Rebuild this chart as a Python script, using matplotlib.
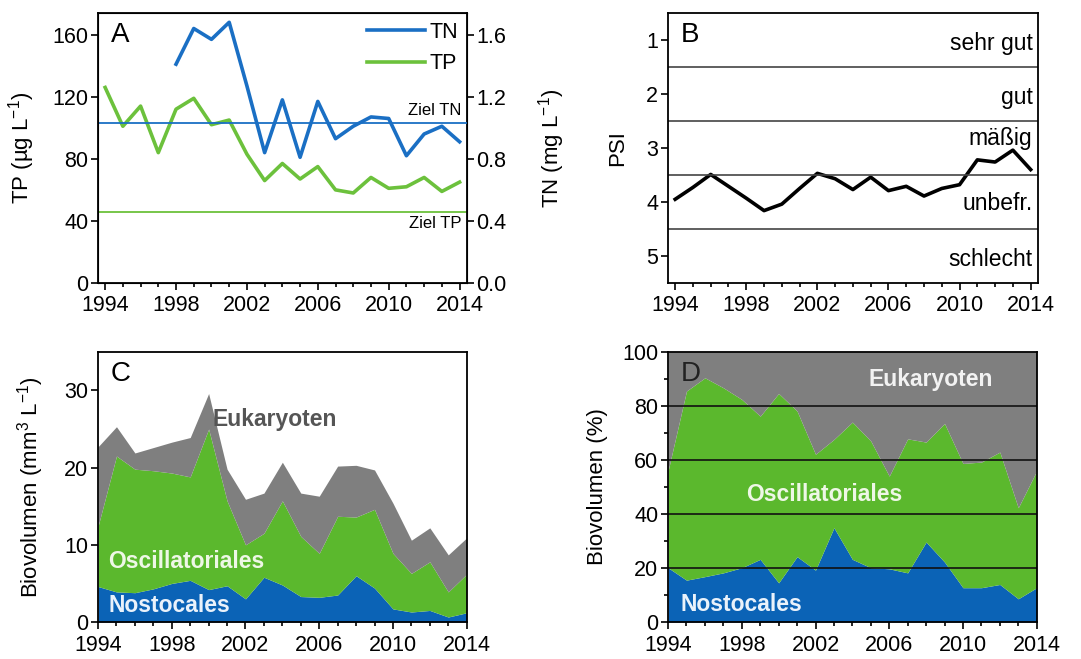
import numpy as np
import matplotlib
matplotlib.use('Agg')
from matplotlib import pyplot as plt
from matplotlib.ticker import MultipleLocator

plt.rcParams['font.family'] = ['Liberation Sans', 'DejaVu Sans']
plt.rcParams['mathtext.fontset'] = 'custom'
plt.rcParams['mathtext.rm'] = 'Liberation Sans'
plt.rcParams['mathtext.it'] = 'Liberation Sans'
plt.rcParams['mathtext.default'] = 'regular'

#Data
years = list(range(1994, 2015))
year_ticks = [1994, 1998, 2002, 2006, 2010, 2014]
tp = [126, 101, 114, 84, 112, 119, 102, 105, 83, 66, 77, 67, 75, 60, 58, 68, 61, 62, 68, 59, 65]
tn_years = list(range(1998, 2015))
tn = [1.41, 1.64, 1.57, 1.68, 1.27, 0.84, 1.18, 0.81, 1.17, 0.93, 1.01, 1.07, 1.06, 0.82, 0.96, 1.01, 0.91]
ziel_tn = 1.03
ziel_tp = 46

psi = [3.95, 3.73, 3.49, 3.71, 3.93, 4.16, 4.04, 3.75, 3.47, 3.57, 3.77, 3.54, 3.79, 3.71, 3.89, 3.75, 3.68, 3.22, 3.26, 3.04, 3.40]
psi_classes = ['sehr gut', 'gut', 'mäßig', 'unbefr.', 'schlecht']
psi_class_y = [1.07, 2.06, 2.83, 4.03, 5.07]
psi_bounds = [1.5, 2.5, 3.5, 4.5]

#Biovolume (mm3/L), cumulative tops
nost_abs = [4.6, 3.9, 3.8, 4.3, 5.0, 5.4, 4.2, 4.7, 3.0, 5.8, 4.8, 3.3, 3.2, 3.5, 6.0, 4.4, 1.7, 1.3, 1.5, 0.65, 1.2]
osc_top_abs = [12.4, 21.5, 19.8, 19.6, 19.3, 18.8, 25.0, 15.7, 10.0, 11.5, 15.7, 11.1, 8.9, 13.7, 13.6, 14.6, 8.9, 6.3, 7.8, 3.9, 6.2]
total_abs = [22.7, 25.3, 21.9, 22.6, 23.3, 23.9, 29.6, 19.8, 15.9, 16.7, 20.7, 16.7, 16.3, 20.2, 20.3, 19.7, 15.4, 10.6, 12.2, 8.7, 10.9]

#Biovolume (%), cumulative tops
nost_pct = [20.1, 15.5, 16.8, 18.2, 20.1, 23.2, 14.5, 24.2, 19.2, 34.9, 23.2, 20.1, 19.7, 18.2, 29.6, 22.2, 12.7, 12.7, 13.9, 8.6, 12.7]
osc_top_pct = [55.9, 85.5, 90.4, 86.7, 82.4, 76.2, 84.6, 78.1, 62.1, 67.6, 74.0, 67.0, 54.0, 67.8, 66.6, 73.5, 58.7, 59.2, 62.9, 42.3, 55.9]

blue_line = '#1a6fc4'
green_line = '#6cc13c'
blue_fill = '#0b63b6'
green_fill = '#5bb82d'
grey_fill = '#7f7f7f'

fs = 15.5      # tick labels
fl = 16        # axis labels
fp = 20        # panel letters
fc = 16.5      # class / group labels

fig = plt.figure(figsize=(10.81, 6.59), dpi=100)
axA = fig.add_axes([0.0907, 0.5706, 0.341, 0.4097])
axB = fig.add_axes([0.618, 0.5706, 0.342, 0.4097])
axC = fig.add_axes([0.0907, 0.0561, 0.341, 0.410])
axD = fig.add_axes([0.618, 0.0561, 0.341, 0.410])

def style_x(ax):
    ax.set_xticks(year_ticks)
    ax.xaxis.set_minor_locator(MultipleLocator(1))
    ax.tick_params(axis='both', which='major', direction='out', length=5, width=1.2, labelsize=fs, pad=2)
    ax.tick_params(axis='x', which='major', pad=4)
    ax.tick_params(axis='both', which='minor', direction='out', length=3, width=1.2)
    for s in ax.spines.values():
        s.set_linewidth(1.3)

#Panel A
axA.plot(years, tp, color=green_line, lw=2.6, label='TP')
axA.axhline(ziel_tp, color=green_line, lw=1.3)
axA.set_xlim(1993.6, 2014.4)
axA.set_ylim(0, 174)
axA.set_yticks([0, 40, 80, 120, 160])
axA.set_ylabel('TP (µg L$^{-1}$)', fontsize=fl, labelpad=11)
style_x(axA)
axA2 = axA.twinx()
axA2.plot(tn_years, tn, color=blue_line, lw=2.6, label='TN')
axA2.axhline(ziel_tn, color=blue_line, lw=1.3)
axA2.set_ylim(0, 1.74)
axA2.set_yticks([0.0, 0.4, 0.8, 1.2, 1.6])
axA2.set_yticklabels(['0.0', '0.4', '0.8', '1.2', '1.6'])
axA2.set_ylabel('TN (mg L$^{-1}$)', fontsize=fl, labelpad=21)
axA2.tick_params(axis='y', direction='out', length=5, width=1.2, labelsize=fs, pad=2)
axA.text(0.035, 0.965, 'A', transform=axA.transAxes, fontsize=fp, va='top', ha='left')
axA.text(2014.1, 106, 'Ziel TN', fontsize=12, ha='right', va='bottom')
axA.text(2014.1, 43, 'Ziel TP', fontsize=12, ha='right', va='top')
h1, l1 = axA2.get_legend_handles_labels()
h2, l2 = axA.get_legend_handles_labels()
axA.legend(h1 + h2, l1 + l2, loc='upper right', frameon=False, fontsize=fs,
           handlelength=2.7, handletextpad=0.2, borderaxespad=0.2, borderpad=0.2,
           labelspacing=0.5)

#Panel B
axB.plot(years, psi, color='black', lw=2.6)
for b in psi_bounds:
    axB.axhline(b, color='#444444', lw=1.2)
for name, yv in zip(psi_classes, psi_class_y):
    axB.text(2014.1, yv, name, fontsize=fc, ha='right', va='center')
axB.set_xlim(1993.6, 2014.4)
axB.set_ylim(5.5, 0.5)
axB.set_yticks([1, 2, 3, 4, 5])
axB.set_ylabel('PSI', fontsize=fl, labelpad=13)
style_x(axB)
axB.text(0.035, 0.965, 'B', transform=axB.transAxes, fontsize=fp, va='top', ha='left')

#Panel C
axC.fill_between(years, 0, nost_abs, color=blue_fill, lw=0)
axC.fill_between(years, nost_abs, osc_top_abs, color=green_fill, lw=0)
axC.fill_between(years, osc_top_abs, total_abs, color=grey_fill, lw=0)
axC.set_xlim(1994, 2014)
axC.set_ylim(0, 35)
axC.set_yticks([0, 10, 20, 30])
axC.set_ylabel('Biovolumen (mm$^3$ L$^{-1}$)', fontsize=fl, labelpad=13)
style_x(axC)
axC.text(0.035, 0.965, 'C', transform=axC.transAxes, fontsize=fp, va='top', ha='left')
axC.text(2000.2, 26.3, 'Eukaryoten', fontsize=fc, fontweight='bold', color='#555555', va='center')
axC.text(1994.55, 7.8, 'Oscillatoriales', fontsize=fc, fontweight='bold', color='#eef7e6', va='center')
axC.text(1994.55, 2.2, 'Nostocales', fontsize=fc, fontweight='bold', color='#eaf2fb', va='center')

#Panel D
axD.fill_between(years, 0, nost_pct, color=blue_fill, lw=0)
axD.fill_between(years, nost_pct, osc_top_pct, color=green_fill, lw=0)
axD.fill_between(years, osc_top_pct, 100, color=grey_fill, lw=0)
for g in [20, 40, 60, 80]:
    axD.axhline(g, color='#111111', lw=1.2)
axD.set_xlim(1994, 2014)
axD.set_ylim(0, 100)
axD.set_yticks([0, 20, 40, 60, 80, 100])
axD.yaxis.set_minor_locator(MultipleLocator(10))
axD.set_ylabel('Biovolumen (%)', fontsize=fl, labelpad=10)
style_x(axD)
axD.text(0.035, 0.965, 'D', transform=axD.transAxes, fontsize=fp, va='top', ha='left', color='#222222')
axD.text(2004.9, 89.8, 'Eukaryoten', fontsize=fc, fontweight='bold', color='#f2f2f2', va='center')
axD.text(1998.25, 47.2, 'Oscillatoriales', fontsize=fc, fontweight='bold', color='#eef7e6', va='center')
axD.text(1994.7, 6.5, 'Nostocales', fontsize=fc, fontweight='bold', color='#eaf2fb', va='center')

plt.savefig('out.png', dpi=100)
